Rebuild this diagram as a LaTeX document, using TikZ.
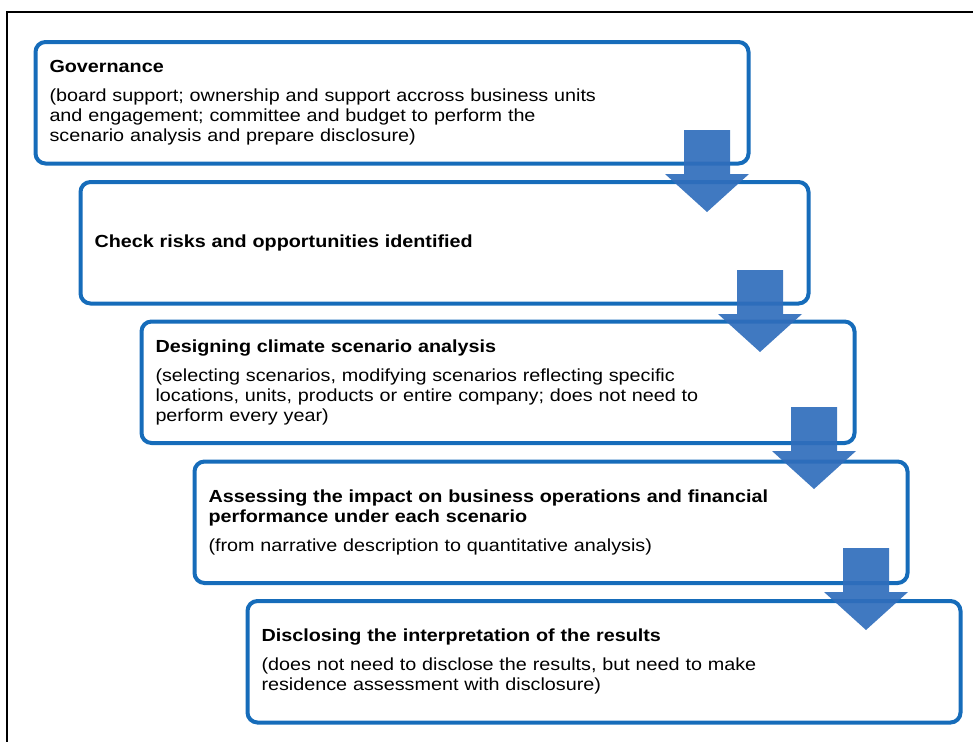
\documentclass[tikz,border=0pt]{standalone}
\usepackage{fontspec}
\setmainfont[FakeStretch=1.13]{Liberation Sans}
\usepackage{xcolor}
\usepackage{tikz}
\usetikzlibrary{positioning,calc}
\definecolor{stageblue}{RGB}{22,108,186}
\definecolor{flowblue}{RGB}{48,110,188}

\begin{document}
\begin{tikzpicture}[x=1pt,y=1pt,
  every node/.style={font=\fontsize{17.5}{20}\selectfont},
  stage/.style={draw=stageblue,line width=4pt,rounded corners=10pt,anchor=north west,
    outer sep=0pt,inner xsep=14pt,minimum height=121.5pt,text width=685pt,align=left},
  flowdown/.pic={\fill[flowblue,fill opacity=0.92] (-23,0) -- (23,0) -- (23,-44) -- (42,-44)
    -- (0,-82) -- (-42,-44) -- (-23,-44) -- cycle;}]
  \useasboundingbox (0,0) rectangle (973,-742);
  \draw[line width=1.4pt] (973,-12) -- (7,-12) -- (7,-742);
  \node[stage] (gov) at (35.5,-42) {\textbf{Governance}\\[9pt]
    (board support; ownership and support accross business units\\
    and engagement; committee and budget to perform the\\
    scenario analysis and prepare disclosure)};
  \node[stage,text width=700pt] (risks) at (80.5,-182) {\textbf{Check risks and opportunities identified}};
  \node[stage] (design) at (141.5,-321.5) {\textbf{Designing climate scenario analysis}\\[9pt]
    (selecting scenarios, modifying scenarios reflecting specific\\
    locations, units, products or entire company; does not need to\\
    perform every year)};
  \node[stage] (assess) at (194.5,-461.5) {\textbf{Assessing the impact on business operations and financial}\\
    \textbf{performance under each scenario}\\[9pt]
    (from narrative description to quantitative analysis)};
  \node[stage] (disclose) at (247.5,-601) {\textbf{Disclosing the interpretation of the results}\\[9pt]
    (does not need to disclose the results, but need to make\\
    residence assessment with disclosure)};
  \pic at (707,-130) {flowdown};
  \pic at (760,-270) {flowdown};
  \pic at (814,-407) {flowdown};
  \pic at (866,-548) {flowdown};
\end{tikzpicture}
\end{document}
